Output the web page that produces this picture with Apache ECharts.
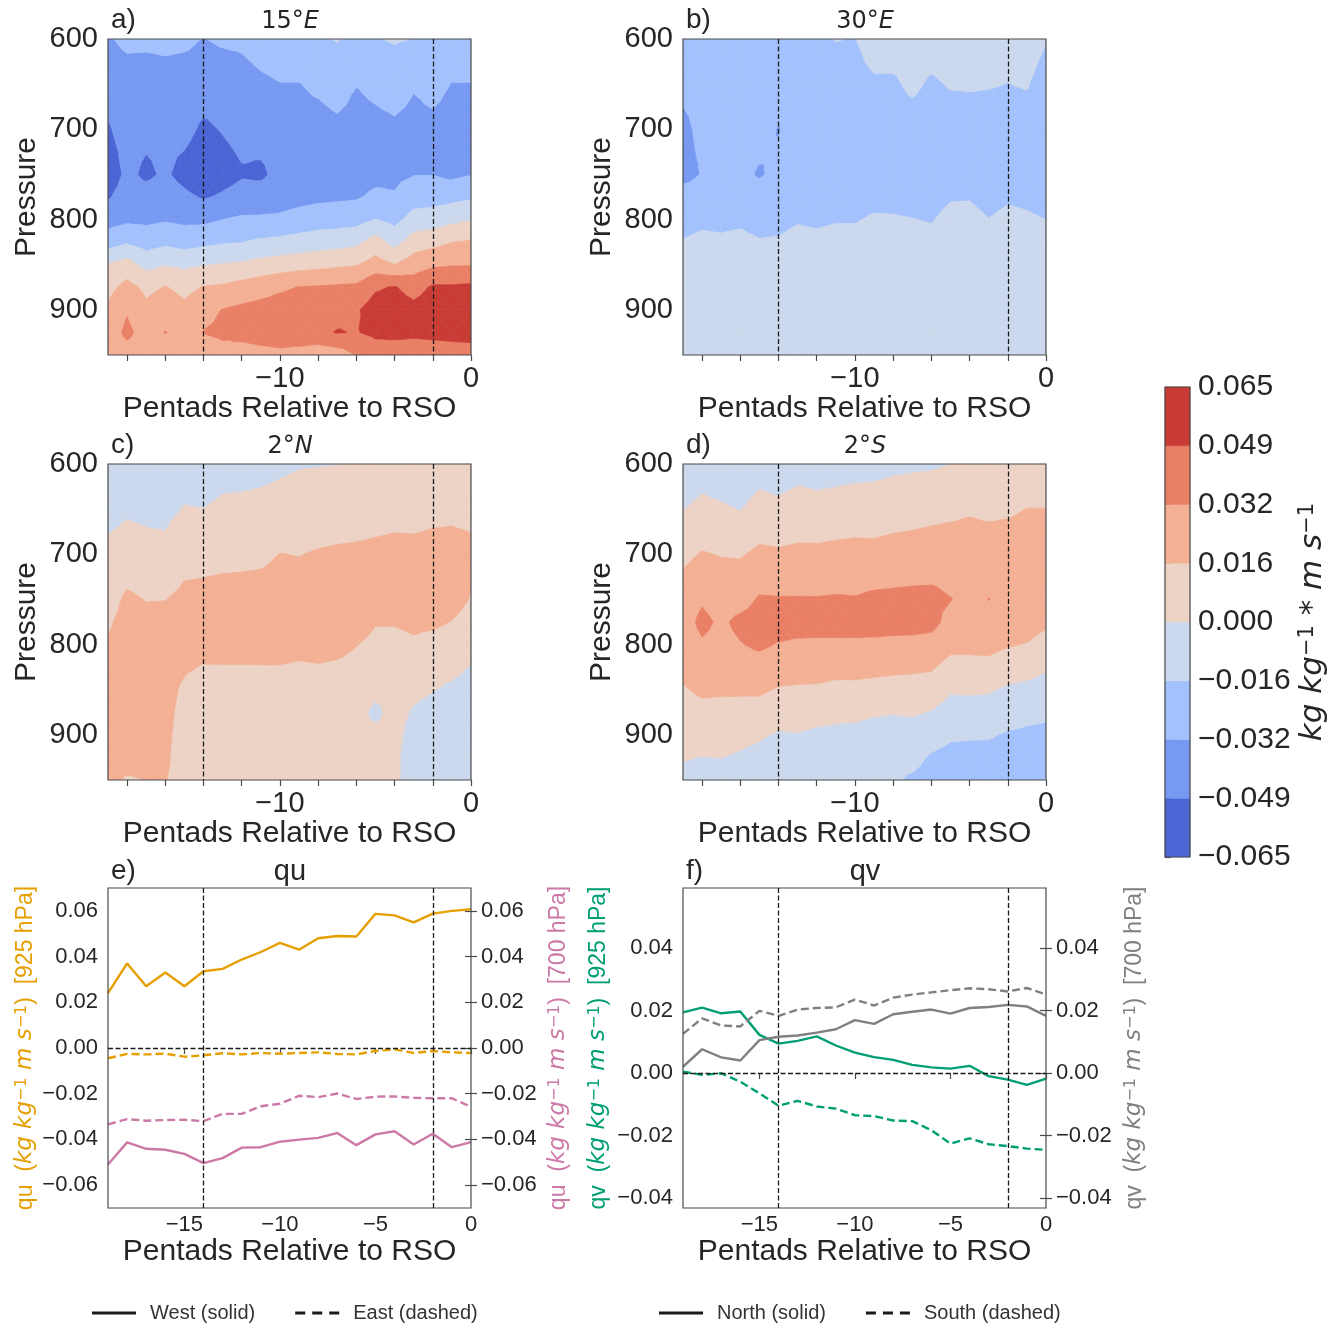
<!DOCTYPE html>
<html>
<head>
<meta charset="utf-8">
<script src="https://cdn.jsdelivr.net/npm/echarts@6/dist/echarts.min.js"></script>
<style>
  html, body { margin: 0; padding: 0; background: #fff; }
  #chart { width: 1343px; height: 1325px; }
</style>
</head>
<body>
<div id="chart"></div>
<script>
// ---- data ----
const pentads = [-19, -18, -17, -16, -15, -14, -13, -12, -11, -10, -9, -8, -7, -6, -5, -4, -3, -2, -1, 0];
const pressures = [600, 650, 700, 750, 775, 800, 825, 850, 875, 900, 925, 950];

const levels = [-0.065, -0.04875, -0.0325, -0.01625, 0, 0.01625, 0.0325, 0.04875, 0.065];
const levelLabels = ['\u22120.065', '\u22120.049', '\u22120.032', '\u22120.016', '0.000', '0.016', '0.032', '0.049', '0.065'];
const levelColors = ['#4b65d4', '#7799f1', '#a3c1fd', '#cbd8ed', '#ecd3c5', '#f4b095', '#e97f64', '#c93b35'];

// one profile per pentad (-19 .. 0), each from 600 to 950 hPa
const flux15E = [
  [-0.034, -0.042, -0.050, -0.056, -0.050, -0.039, -0.0235, 0.001, 0.011, 0.020, 0.024, 0.022],
  [-0.029, -0.040, -0.044, -0.046, -0.043, -0.0354, -0.018, 0.0064, 0.0215, 0.031, 0.036, 0.026],
  [-0.029, -0.041, -0.046, -0.051, -0.044, -0.036, -0.0233, -0.0053, 0.0125, 0.020, 0.026, 0.022],
  [-0.028, -0.040, -0.045, -0.047, -0.042, -0.034, -0.0196, -0.0008, 0.017, 0.025, 0.033, 0.024],
  [-0.029, -0.041, -0.045, -0.053, -0.046, -0.036, -0.0227, -0.0034, 0.012, 0.020, 0.027, 0.024],
  [-0.033, -0.042, -0.051, -0.058, -0.050, -0.036, -0.020, -0.0008, 0.017, 0.027, 0.033, 0.022],
  [-0.030, -0.043, -0.048, -0.054, -0.047, -0.0326, -0.0178, 0.0008, 0.0187, 0.033, 0.036, 0.026],
  [-0.029, -0.040, -0.045, -0.050, -0.044, -0.0298, -0.0165, 0.0025, 0.0225, 0.036, 0.040, 0.022],
  [-0.024, -0.036, -0.044, -0.051, -0.043, -0.0298, -0.0137, 0.0056, 0.026, 0.038, 0.043, 0.0247],
  [-0.021, -0.033, -0.042, -0.045, -0.040, -0.0293, -0.012, 0.008, 0.030, 0.040, 0.044, 0.0273],
  [-0.020, -0.033, -0.040, -0.042, -0.038, -0.026, -0.0099, 0.0101, 0.033, 0.041, 0.045, 0.0247],
  [-0.018, -0.029, -0.040, -0.041, -0.036, -0.0237, -0.008, 0.0118, 0.034, 0.043, 0.046, 0.021],
  [-0.0155, -0.024, -0.037, -0.040, -0.035, -0.0232, -0.0064, 0.0136, 0.035, 0.044, 0.0495, 0.024],
  [-0.019, -0.032, -0.040, -0.040, -0.034, -0.0223, -0.0036, 0.0153, 0.036, 0.047, 0.048, 0.033],
  [-0.017, -0.028, -0.038, -0.037, -0.0293, -0.016, 0.0068, 0.023, 0.0467, 0.056, 0.052, 0.041],
  [-0.015, -0.024, -0.036, -0.036, -0.031, -0.021, -0.0056, 0.0165, 0.050, 0.058, 0.053, 0.040],
  [-0.0165, -0.031, -0.038, -0.033, -0.0234, -0.0102, 0.008, 0.0246, 0.042, 0.054, 0.052, 0.040],
  [-0.017, -0.027, -0.037, -0.033, -0.0229, -0.0084, 0.0112, 0.0298, 0.051, 0.058, 0.053, 0.040],
  [-0.020, -0.033, -0.040, -0.036, -0.0208, -0.0043, 0.016, 0.0314, 0.051, 0.058, 0.054, 0.041],
  [-0.017, -0.033, -0.040, -0.033, -0.0184, -0.0005, 0.018, 0.0315, 0.052, 0.058, 0.055, 0.041]
];

const flux30E = [
  [-0.026, -0.030, -0.035, -0.036, -0.028, -0.023, -0.015, -0.010, -0.010, -0.011, -0.011, -0.011],
  [-0.026, -0.028, -0.030, -0.032, -0.028, -0.020, -0.012, -0.010, -0.010, -0.011, -0.011, -0.011],
  [-0.025, -0.027, -0.028, -0.030, -0.027, -0.021, -0.013, -0.010, -0.010, -0.011, -0.011, -0.011],
  [-0.025, -0.027, -0.028, -0.030, -0.027, -0.0195, -0.0115, -0.010, -0.010, -0.011, -0.011, -0.011],
  [-0.025, -0.027, -0.029, -0.0335, -0.028, -0.023, -0.015, -0.010, -0.010, -0.011, -0.011, -0.011],
  [-0.025, -0.027, -0.033, -0.030, -0.027, -0.022, -0.014, -0.010, -0.010, -0.010, -0.011, -0.011],
  [-0.024, -0.026, -0.028, -0.028, -0.026, -0.018, -0.010, -0.010, -0.010, -0.010, -0.010, -0.010],
  [-0.022, -0.025, -0.027, -0.027, -0.025, -0.0195, -0.0115, -0.010, -0.010, -0.010, -0.010, -0.010],
  [-0.0158, -0.023, -0.026, -0.027, -0.025, -0.0176, -0.0096, -0.010, -0.010, -0.010, -0.010, -0.010],
  [-0.0168, -0.022, -0.025, -0.026, -0.024, -0.0176, -0.0096, -0.010, -0.010, -0.010, -0.010, -0.010],
  [-0.007, -0.0191, -0.026, -0.026, -0.022, -0.014, -0.008, -0.009, -0.009, -0.010, -0.010, -0.010],
  [-0.007, -0.0191, -0.026, -0.026, -0.0224, -0.0144, -0.008, -0.009, -0.009, -0.010, -0.010, -0.010],
  [-0.006, -0.0126, -0.0246, -0.026, -0.0237, -0.0157, -0.008, -0.009, -0.009, -0.010, -0.010, -0.010],
  [-0.007, -0.019, -0.026, -0.026, -0.024, -0.0176, -0.0096, -0.010, -0.009, -0.010, -0.010, -0.010],
  [-0.005, -0.0148, -0.026, -0.025, -0.018, -0.0102, -0.008, -0.009, -0.009, -0.010, -0.010, -0.010],
  [-0.005, -0.0143, -0.026, -0.025, -0.0176, -0.0096, -0.008, -0.009, -0.009, -0.010, -0.010, -0.010],
  [-0.005, -0.015, -0.026, -0.026, -0.0237, -0.0157, -0.008, -0.009, -0.009, -0.010, -0.010, -0.010],
  [-0.006, -0.0165, -0.026, -0.025, -0.0189, -0.0109, -0.008, -0.009, -0.009, -0.010, -0.010, -0.010],
  [-0.005, -0.0148, -0.026, -0.025, -0.021, -0.013, -0.008, -0.009, -0.009, -0.010, -0.010, -0.010],
  [-0.0148, -0.026, -0.026, -0.026, -0.024, -0.0163, -0.0083, -0.009, -0.009, -0.010, -0.010, -0.010]
];

const flux2N = [
  [-0.0126, -0.0046, 0.0034, 0.010, 0.014, 0.018, 0.022, 0.023, 0.023, 0.022, 0.021, 0.020],
  [-0.0098, -0.0018, 0.0062, 0.019, 0.022, 0.024, 0.024, 0.024, 0.024, 0.022, 0.021, 0.015],
  [-0.0112, -0.0032, 0.0048, 0.0158, 0.020, 0.023, 0.023, 0.023, 0.022, 0.021, 0.020, 0.0165],
  [-0.0118, -0.0038, 0.0042, 0.016, 0.020, 0.022, 0.022, 0.021, 0.020, 0.019, 0.018, 0.0168],
  [-0.0072, 0.0008, 0.011, 0.020, 0.023, 0.021, 0.018, 0.014, 0.012, 0.011, 0.011, 0.012],
  [-0.008, 0.0001, 0.011, 0.021, 0.023, 0.021, 0.0155, 0.010, 0.008, 0.008, 0.008, 0.008],
  [-0.0053, 0.0027, 0.012, 0.022, 0.024, 0.022, 0.0155, 0.010, 0.008, 0.007, 0.007, 0.007],
  [-0.005, 0.003, 0.0125, 0.022, 0.024, 0.022, 0.0155, 0.010, 0.008, 0.007, 0.007, 0.007],
  [-0.0042, 0.0038, 0.013, 0.023, 0.025, 0.023, 0.0155, 0.010, 0.008, 0.007, 0.007, 0.007],
  [-0.0027, 0.0053, 0.0165, 0.024, 0.025, 0.023, 0.0155, 0.010, 0.007, 0.007, 0.007, 0.007],
  [-0.001, 0.007, 0.0158, 0.024, 0.025, 0.022, 0.014, 0.009, 0.006, 0.006, 0.006, 0.006],
  [-0.0006, 0.0074, 0.0175, 0.025, 0.026, 0.023, 0.015, 0.009, 0.005, 0.004, 0.005, 0.005],
  [-0.0002, 0.008, 0.0185, 0.026, 0.027, 0.023, 0.013, 0.008, 0.004, 0.004, 0.005, 0.005],
  [0.0005, 0.009, 0.019, 0.026, 0.026, 0.017, 0.010, 0.006, 0.003, 0.003, 0.004, 0.004],
  [0.003, 0.010, 0.020, 0.025, 0.0175, 0.011, 0.006, 0.002, -0.002, 0.002, 0.003, 0.003],
  [0.004, 0.011, 0.021, 0.025, 0.0175, 0.011, 0.006, 0.004, 0.003, 0.003, 0.002, 0.002],
  [0.004, 0.011, 0.0205, 0.025, 0.020, 0.0135, 0.008, 0.0025, -0.001, -0.004, -0.005, -0.005],
  [0.005, 0.012, 0.022, 0.025, 0.019, 0.011, 0.004, 0.0005, -0.004, -0.007, -0.008, -0.008],
  [0.005, 0.0125, 0.0225, 0.022, 0.0158, 0.009, 0.003, -0.002, -0.006, -0.008, -0.009, -0.009],
  [0.006, 0.012, 0.020, 0.0155, 0.011, 0.005, -0.0005, -0.005, -0.008, -0.009, -0.010, -0.010]
];

const flux2S = [
  [-0.0134, -0.0005, 0.0124, 0.024, 0.026, 0.024, 0.020, 0.015, 0.0104, 0.0056, 0.0009, -0.003],
  [-0.0086, 0.0044, 0.0173, 0.0307, 0.036, 0.0308, 0.0246, 0.0185, 0.0123, 0.006, -0.0003, -0.006],
  [-0.011, 0.0021, 0.0155, 0.026, 0.030, 0.028, 0.024, 0.018, 0.0124, 0.0063, 0.0002, -0.005],
  [-0.013, -0.0006, 0.015, 0.027, 0.036, 0.0318, 0.026, 0.0182, 0.0115, 0.0046, -0.002, -0.008],
  [-0.0075, 0.0059, 0.0194, 0.034, 0.038, 0.035, 0.0266, 0.0186, 0.0103, 0.002, -0.005, -0.010],
  [-0.0096, 0.0038, 0.0184, 0.0335, 0.039, 0.0317, 0.0237, 0.015, 0.0067, -0.0015, -0.008, -0.012],
  [-0.006, 0.0066, 0.0196, 0.0335, 0.039, 0.030, 0.022, 0.0145, 0.0068, -0.0008, -0.007, -0.011],
  [-0.008, 0.0056, 0.0196, 0.0334, 0.039, 0.0295, 0.022, 0.0142, 0.0056, -0.003, -0.009, -0.012],
  [-0.007, 0.0067, 0.0206, 0.034, 0.039, 0.0296, 0.0204, 0.0129, 0.0042, -0.004, -0.010, -0.013],
  [-0.006, 0.0078, 0.0211, 0.0335, 0.039, 0.0296, 0.0211, 0.0125, 0.0038, -0.005, -0.010, -0.013],
  [-0.005, 0.0078, 0.0208, 0.0355, 0.040, 0.0288, 0.0203, 0.0114, 0.0019, -0.007, -0.012, -0.015],
  [-0.0035, 0.0094, 0.0222, 0.036, 0.040, 0.0275, 0.0195, 0.0105, 0.0008, -0.008, -0.012, -0.014],
  [-0.0026, 0.0103, 0.023, 0.0365, 0.040, 0.027, 0.0189, 0.010, 0.0014, -0.005, -0.0115, -0.0185],
  [-0.002, 0.0117, 0.024, 0.0365, 0.0375, 0.0266, 0.018, 0.0088, -0.0007, -0.0094, -0.0181, -0.022],
  [0.000, 0.013, 0.0245, 0.033, 0.027, 0.0205, 0.011, 0.0015, -0.0065, -0.014, -0.021, -0.024],
  [0.002, 0.0145, 0.0245, 0.028, 0.026, 0.0205, 0.011, 0.002, -0.0063, -0.0147, -0.021, -0.024],
  [0.002, 0.013, 0.0245, 0.0328, 0.027, 0.021, 0.0116, 0.0015, -0.007, -0.015, -0.021, -0.024],
  [0.003, 0.014, 0.0245, 0.027, 0.024, 0.0175, 0.0074, -0.0022, -0.010, -0.0175, -0.022, -0.025],
  [0.004, 0.0165, 0.025, 0.027, 0.023, 0.0156, 0.0056, -0.004, -0.012, -0.019, -0.023, -0.026],
  [0.005, 0.0165, 0.024, 0.022, 0.019, 0.0104, 0.0017, -0.006, -0.0133, -0.020, -0.024, -0.026]
];

// area-mean fluxes on the box edges
const quWest925 = [0.024, 0.037, 0.027, 0.033, 0.027, 0.0336, 0.0346, 0.0387, 0.042, 0.046, 0.043, 0.048, 0.049, 0.0488, 0.0587, 0.058, 0.055, 0.0588, 0.060, 0.0607];
const quEast925 = [-0.0045, -0.0026, -0.0028, -0.0025, -0.0038, -0.0032, -0.0023, -0.0028, -0.0022, -0.0025, -0.0022, -0.0019, -0.0026, -0.0028, -0.0013, -0.0006, -0.0022, -0.0013, -0.0019, -0.0022];
const quWest700 = [-0.051, -0.0413, -0.0441, -0.0445, -0.0463, -0.0504, -0.0482, -0.0436, -0.0434, -0.041, -0.0401, -0.0393, -0.0372, -0.0425, -0.0378, -0.0364, -0.0422, -0.0375, -0.0434, -0.0412];
const quEast700 = [-0.0334, -0.0311, -0.0318, -0.0315, -0.0314, -0.032, -0.0288, -0.0288, -0.0255, -0.0244, -0.0209, -0.0215, -0.0199, -0.0223, -0.0213, -0.0212, -0.0218, -0.022, -0.022, -0.0258];
const qvNorth925 = [0.0194, 0.0209, 0.0191, 0.0197, 0.0122, 0.0094, 0.0103, 0.0117, 0.0088, 0.0065, 0.0051, 0.0042, 0.0026, 0.0018, 0.0014, 0.0023, -0.001, -0.0021, -0.0038, -0.0018];
const qvSouth925 = [0.0004, -0.0006, -0.0001, -0.0028, -0.0065, -0.0105, -0.0089, -0.0107, -0.0114, -0.0135, -0.0138, -0.0152, -0.0154, -0.0183, -0.0226, -0.0209, -0.0228, -0.0234, -0.0242, -0.0246];
const qvNorth700 = [0.002, 0.0076, 0.005, 0.004, 0.0105, 0.0116, 0.012, 0.0129, 0.014, 0.0169, 0.0157, 0.0188, 0.0196, 0.0203, 0.019, 0.0208, 0.0211, 0.0218, 0.0213, 0.0183];
const qvSouth700 = [0.0125, 0.0175, 0.0152, 0.0149, 0.0199, 0.0183, 0.0203, 0.0208, 0.021, 0.0235, 0.0216, 0.0241, 0.0251, 0.0258, 0.0265, 0.0271, 0.0268, 0.0261, 0.0272, 0.0251];

const onsetMarks = [-14, -2];
const contourXTicks = [-18, -16, -14, -12, -10, -8, -6, -4, -2, 0];
const contourXLabels = [-10, 0];
const pressureTicks = [600, 620, 640, 660, 680, 700, 720, 740, 760, 780, 800, 820, 840, 860, 880, 900, 920, 940];
const pressureLabels = [600, 700, 800, 900];
const lineXTicks = [-15, -10, -5, 0];
const quTicks = [-0.06, -0.04, -0.02, 0, 0.02, 0.04, 0.06];
const qvTicks = [-0.04, -0.02, 0, 0.02, 0.04];

// ---- styling ----
const ink = '#262626';
const frame = '#4a4a4a';
const sans = 'Liberation Sans, Arial, sans-serif';
const mathFont = 'DejaVu Sans, sans-serif';
const orange = '#e69f00', pink = '#cc79a7', green = '#009e73', gray = '#808080';

const minus = v => String(v).replace('-', '\u2212');
const fixed2 = v => (Math.abs(v) < 1e-9 ? 0 : v).toFixed(2).replace('-', '\u2212');

// keep the part of a polygon where sign * (v - t) >= 0
function clipPoly(poly, t, sign) {
  const out = [];
  for (let k = 0; k < poly.length; k++) {
    const a = poly[k], b = poly[(k + 1) % poly.length];
    const da = sign * (a.v - t), db = sign * (b.v - t);
    if (da >= 0) out.push(a);
    if ((da >= 0) !== (db >= 0)) {
      const s = da / (da - db);
      out.push({ x: a.x + s * (b.x - a.x), y: a.y + s * (b.y - a.y), v: t });
    }
  }
  return out;
}

// filled contour of one grid cell, split into four triangles round its centre
function contourRenderer(grid) {
  return function (params, api) {
    const i = api.value(2), j = api.value(3);
    const corners = [[i, j], [i + 1, j], [i + 1, j + 1], [i, j + 1]].map(([a, b]) => {
      const pt = api.coord([pentads[a], pressures[b]]);
      return { x: pt[0], y: pt[1], v: grid[a][b] };
    });
    const centre = {
      x: corners.reduce((s, c) => s + c.x, 0) / 4,
      y: corners.reduce((s, c) => s + c.y, 0) / 4,
      v: corners.reduce((s, c) => s + c.v, 0) / 4
    };
    const children = [];
    for (let k = 0; k < 4; k++) {
      const tri = [corners[k], corners[(k + 1) % 4], centre];
      for (let b = 0; b < levelColors.length; b++) {
        const lo = b === 0 ? -Infinity : levels[b];
        const hi = b === levelColors.length - 1 ? Infinity : levels[b + 1];
        const poly = clipPoly(clipPoly(tri, lo, 1), hi, -1);
        if (poly.length >= 3) {
          children.push({
            type: 'polygon',
            shape: { points: poly.map(p => [p.x, p.y]) },
            style: { fill: levelColors[b], stroke: levelColors[b], lineWidth: 0.7 }
          });
        }
      }
    }
    return { type: 'group', children };
  };
}

const cellData = [];
for (let i = 0; i < pentads.length - 1; i++) {
  for (let j = 0; j < pressures.length - 1; j++) {
    cellData.push([pentads[i], pressures[j], i, j]);
  }
}

const contourPanels = [
  { grid: flux15E, left: 108, top: 39 },
  { grid: flux30E, left: 683, top: 39 },
  { grid: flux2N, left: 108, top: 464 },
  { grid: flux2S, left: 683, top: 464 }
];

const dashLine = { color: '#1a1a1a', type: [5, 2.5], width: 1.3 };
const tickStyle = { color: frame, width: 1.2 };

const grids = [], xAxes = [], yAxes = [], series = [];

contourPanels.forEach((p, idx) => {
  grids.push({ left: p.left, top: p.top, width: 363, height: 316, show: true, z: 5,
    backgroundColor: 'transparent', borderColor: frame, borderWidth: 1.2 });
  xAxes.push({
    type: 'value', gridIndex: idx, min: -19, max: 0,
    name: 'Pentads Relative to RSO', nameLocation: 'middle', nameGap: 38,
    nameTextStyle: { fontSize: 30, color: ink, fontFamily: sans },
    axisLine: { show: false },
    axisTick: { show: true, length: 6, customValues: contourXTicks, lineStyle: tickStyle },
    axisLabel: { customValues: contourXLabels, fontSize: 29, color: ink, margin: 9, formatter: minus },
    splitLine: { show: false }
  });
  yAxes.push({
    type: 'value', gridIndex: idx, min: 600, max: 950, inverse: true,
    name: 'Pressure', nameLocation: 'middle', nameGap: 66, nameRotate: 90,
    nameTextStyle: { fontSize: 30, color: ink, fontFamily: sans },
    axisLine: { show: false },
    axisTick: { show: true, length: 6, customValues: pressureTicks, lineStyle: tickStyle },
    axisLabel: { customValues: pressureLabels, fontSize: 29, color: ink, margin: 10 },
    splitLine: { show: false }
  });
  series.push({
    type: 'custom', xAxisIndex: idx, yAxisIndex: idx, clip: true, silent: true,
    renderItem: contourRenderer(p.grid),
    encode: { x: 0, y: 1 },
    data: cellData, z: 1
  });
  series.push({
    type: 'line', xAxisIndex: idx, yAxisIndex: idx, data: [], z: 3,
    markLine: { silent: true, symbol: ['none', 'none'], label: { show: false }, animation: false,
      lineStyle: dashLine, data: onsetMarks.map(x => ({ xAxis: x })) }
  });
});

// ---- line panels ----
function supRich(color, size) {
  return {
    t: { fontFamily: sans, fontSize: size, color },
    m: { fontFamily: mathFont, fontStyle: 'italic', fontSize: size, color },
    s: { fontFamily: mathFont, fontSize: Math.round(size * 0.68), color, verticalAlign: 'top' }
  };
}
function fluxName(v, level) {
  return '{t|' + v + '  (}{m|kg kg}{s|\u22121}{m| m s}{s|\u22121}{t|)  [' + level + ' hPa]}';
}

function lineAxes(gridIndex, yMin, yMax, yTicks, leftName, leftColor, rightName, rightColor, gapL, gapR) {
  xAxes.push({
    type: 'value', gridIndex, min: -19, max: 0,
    name: 'Pentads Relative to RSO', nameLocation: 'middle', nameGap: 28,
    nameTextStyle: { fontSize: 30, color: ink, fontFamily: sans },
    axisLine: { show: false },
    axisTick: { show: true, length: 6, customValues: lineXTicks, lineStyle: tickStyle },
    axisLabel: { customValues: lineXTicks, fontSize: 22, color: ink, margin: 6, formatter: minus },
    splitLine: { show: false }
  });
  [[leftName, leftColor, 'left', gapL], [rightName, rightColor, 'right', gapR]].forEach(([nm, col, pos, gap]) => {
    yAxes.push({
      type: 'value', gridIndex, min: yMin, max: yMax, position: pos,
      name: nm, nameLocation: 'middle', nameGap: gap, nameRotate: 90,
      nameTextStyle: { color: col, fontSize: 23, rich: supRich(col, 23) },
      axisLine: { show: false },
      axisTick: { show: true, length: 6, customValues: yTicks, lineStyle: tickStyle },
      axisLabel: { customValues: yTicks, fontSize: 22, color: ink, margin: 10, formatter: fixed2 },
      splitLine: { show: false }
    });
  });
}

grids.push({ left: 108, top: 888, width: 363, height: 320, show: true, z: 5,
  backgroundColor: 'transparent', borderColor: frame, borderWidth: 1.2 });
grids.push({ left: 683, top: 888, width: 363, height: 320, show: true, z: 5,
  backgroundColor: 'transparent', borderColor: frame, borderWidth: 1.2 });

lineAxes(4, -0.07, 0.07, quTicks, fluxName('qu', 925), orange, fluxName('qu', 700), pink, 71, 76);
lineAxes(5, -0.0432, 0.0592, qvTicks, fluxName('qv', 925), green, fluxName('qv', 700), gray, 73, 77);

const zip = arr => arr.map((v, k) => [pentads[k], v]);
function fluxLine(name, data, xi, yi, color, dashed, marks) {
  const s = {
    name, type: 'line', xAxisIndex: xi, yAxisIndex: yi, data: zip(data),
    symbol: 'none', showSymbol: false, z: 2,
    lineStyle: { color, width: 2.4, type: dashed ? [8, 4] : 'solid' },
    itemStyle: { color }
  };
  if (marks) {
    s.markLine = { silent: true, symbol: ['none', 'none'], label: { show: false }, animation: false,
      lineStyle: dashLine, data: onsetMarks.map(x => ({ xAxis: x })).concat([{ yAxis: 0 }]) };
  }
  return s;
}

series.push(fluxLine('West (solid)', quWest925, 4, 4, orange, false, true));
series.push(fluxLine('East (dashed)', quEast925, 4, 4, orange, true));
series.push(fluxLine('West (solid)', quWest700, 4, 5, pink, false));
series.push(fluxLine('East (dashed)', quEast700, 4, 5, pink, true));
series.push(fluxLine('North (solid)', qvNorth925, 5, 6, green, false, true));
series.push(fluxLine('South (dashed)', qvSouth925, 5, 6, green, true));
series.push(fluxLine('North (solid)', qvNorth700, 5, 7, gray, false));
series.push(fluxLine('South (dashed)', qvSouth700, 5, 7, gray, true));

// ---- colour bar ----
grids.push({ left: 1165, top: 387, width: 25, height: 470, show: true, z: 5,
  backgroundColor: 'transparent', borderColor: frame, borderWidth: 1.2 });
xAxes.push({ type: 'value', gridIndex: 6, min: 0, max: 1, show: false });
yAxes.push({
  type: 'value', gridIndex: 6, min: -0.065, max: 0.065, position: 'right',
  name: '{m|kg kg}{s|\u22121}{m| * m s}{s|\u22121}', nameLocation: 'middle', nameGap: 107, nameRotate: 90,
  nameTextStyle: { rich: {
    m: { fontFamily: mathFont, fontStyle: 'italic', fontSize: 31, color: ink },
    s: { fontFamily: mathFont, fontSize: 21, color: ink, verticalAlign: 'top' }
  } },
  axisLine: { show: false },
  axisTick: { show: true, length: 6, customValues: levels, lineStyle: tickStyle },
  axisLabel: {
    customValues: levels, fontSize: 30, color: ink, margin: 8,
    formatter: v => {
      let best = 0;
      levels.forEach((l, k) => { if (Math.abs(l - v) < Math.abs(levels[best] - v)) best = k; });
      return levelLabels[best];
    }
  },
  splitLine: { show: false }
});
series.push({
  type: 'custom', xAxisIndex: 6, yAxisIndex: 8, silent: true, z: 1,
  encode: { x: 0, y: 1 },
  data: levelColors.map((c, k) => [0, levels[k], k]),
  renderItem: (params, api) => {
    const k = api.value(2);
    const a = api.coord([0, levels[k]]), b = api.coord([1, levels[k + 1]]);
    return { type: 'rect', shape: { x: a[0], y: b[1], width: b[0] - a[0], height: a[1] - b[1] },
      style: { fill: levelColors[k], stroke: levelColors[k], lineWidth: 0.5 } };
  }
});

// ---- panel letters and titles ----
const panelTexts = [
  ['a)', 111, 20, '15\u00b0', 'E', 290, 22],
  ['b)', 686, 20, '30\u00b0', 'E', 865, 22],
  ['c)', 111, 445, '2\u00b0', 'N', 290, 447],
  ['d)', 686, 445, '2\u00b0', 'S', 865, 447]
];
const graphics = [];
panelTexts.forEach(([lab, lx, ly, t1, t2, tx, ty]) => {
  graphics.push({ type: 'text', x: lx, y: ly, z: 10,
    style: { text: lab, fontFamily: sans, fontSize: 28, fill: ink, align: 'left', verticalAlign: 'middle' } });
  graphics.push({ type: 'text', x: tx, y: ty, z: 10,
    style: { text: '{n|' + t1 + '}{i|' + t2 + '}', align: 'center', verticalAlign: 'middle',
      rich: { n: { fontFamily: mathFont, fontSize: 24, fill: ink, color: ink },
              i: { fontFamily: mathFont, fontStyle: 'italic', fontSize: 24, fill: ink, color: ink } } } });
});
[['e)', 111, 871, 'qu', 290], ['f)', 686, 871, 'qv', 865]].forEach(([lab, lx, ly, t, tx]) => {
  graphics.push({ type: 'text', x: lx, y: ly, z: 10,
    style: { text: lab, fontFamily: sans, fontSize: 28, fill: ink, align: 'left', verticalAlign: 'middle' } });
  graphics.push({ type: 'text', x: tx, y: ly + 1, z: 10,
    style: { text: t, fontFamily: sans, fontSize: 29, fill: ink, align: 'center', verticalAlign: 'middle' } });
});

const solidIcon = 'path://M0,0h44v3h-44z';
const dashIcon = 'path://M0,0h10v3h-10zM17,0h10v3h-10zM34,0h10v3h-10z';
function legendBlock(left, names) {
  return {
    left, top: 1298, orient: 'horizontal', selectedMode: false,
    itemWidth: 44, itemHeight: 3, itemGap: 40,
    textStyle: { fontSize: 20, color: '#333', fontFamily: sans, padding: [0, 0, 0, 9] },
    data: names.map((n, k) => ({
      name: n,
      icon: k === 0 ? solidIcon : dashIcon,
      itemStyle: { color: '#1a1a1a', borderWidth: 0 }
    }))
  };
}

const option = {
  animation: false,
  backgroundColor: '#fff',
  textStyle: { fontFamily: sans },
  grid: grids,
  xAxis: xAxes,
  yAxis: yAxes,
  series,
  legend: [legendBlock(87, ['West (solid)', 'East (dashed)']), legendBlock(654, ['North (solid)', 'South (dashed)'])],
  graphic: graphics
};

const chart = echarts.init(document.getElementById('chart'));
chart.setOption(option);
</script>
</body>
</html>
